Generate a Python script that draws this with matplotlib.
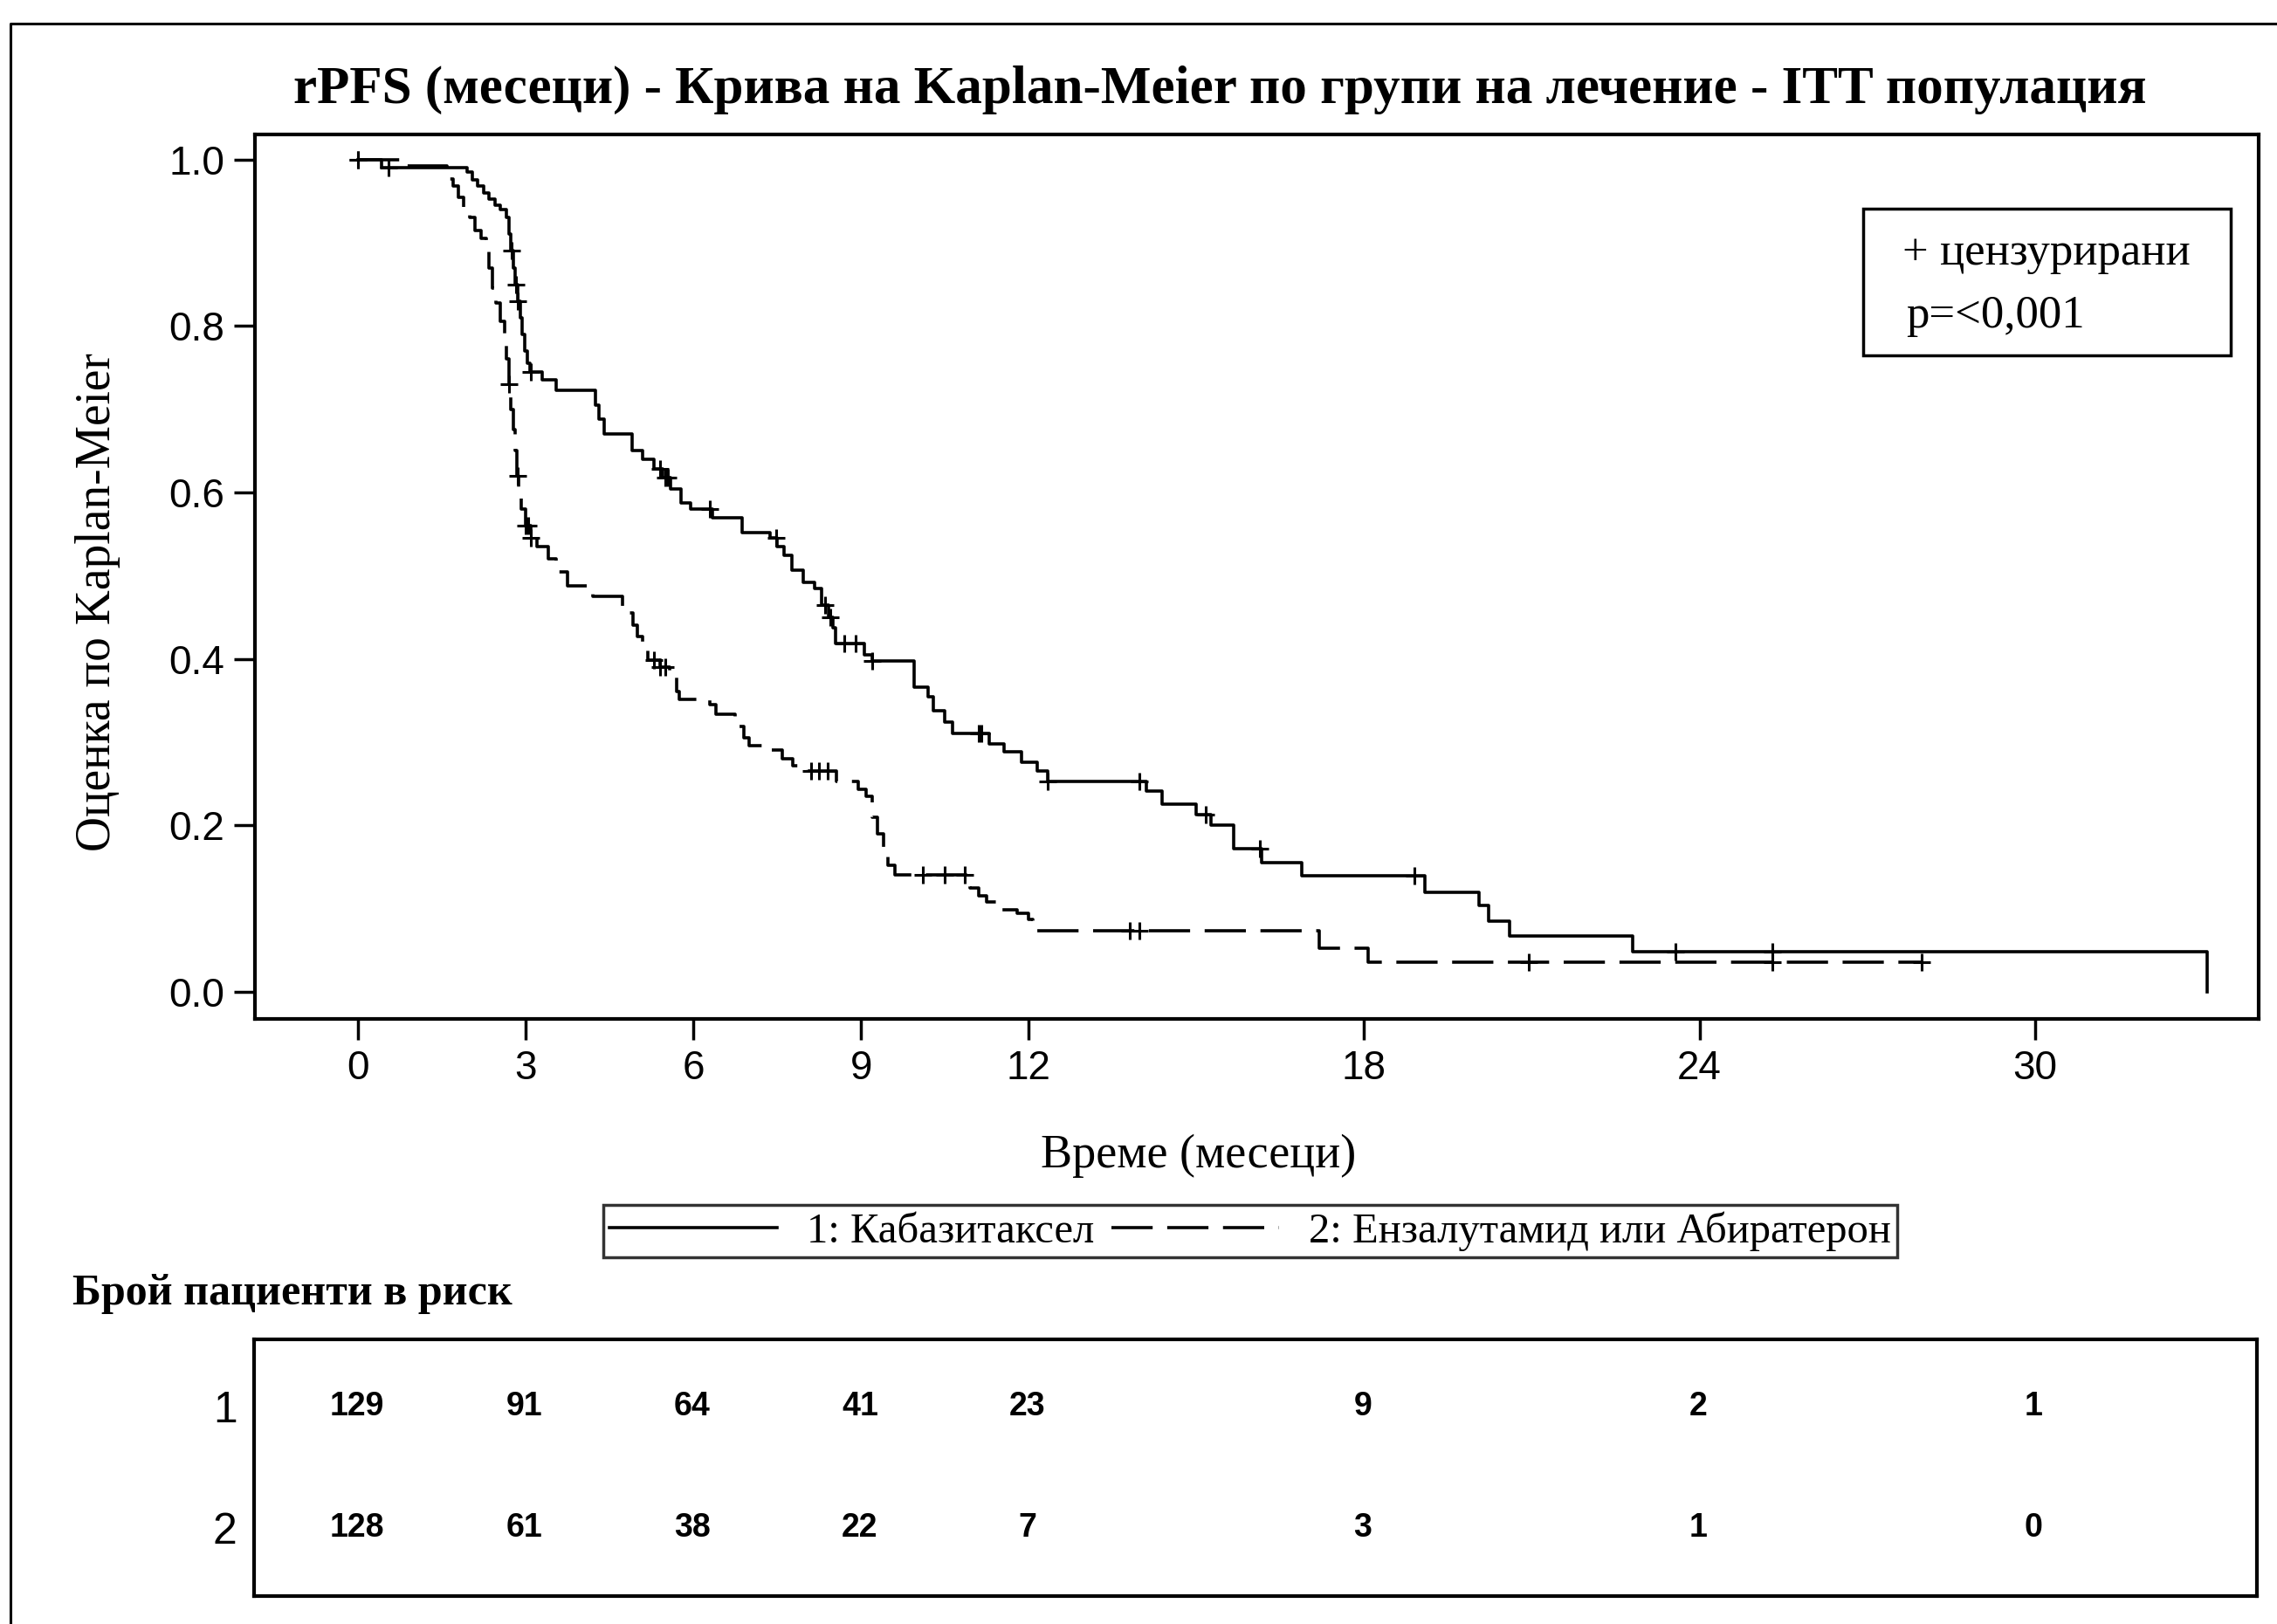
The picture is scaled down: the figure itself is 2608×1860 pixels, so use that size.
import matplotlib
matplotlib.use("Agg")
import matplotlib.pyplot as plt
from matplotlib.lines import Line2D
from matplotlib.patches import Rectangle

# --- data ------------------------------------------------------------------
# group 1: Кабазитаксел (time in months, KM estimate after the step)
g1_time = [0, 0.42, 1.95, 2.05, 2.15, 2.25, 2.35, 2.45, 2.55, 2.66, 2.70, 2.74,
           2.78, 2.82, 2.86, 2.90, 2.94, 2.98, 3.04, 3.08, 3.30, 3.55, 4.25,
           4.32, 4.40, 4.90, 5.10, 5.30, 5.45, 5.60, 5.78, 5.95, 6.35, 6.88,
           7.37, 7.50, 7.62, 7.77, 7.97, 8.17, 8.30, 8.42, 8.50, 8.55, 9.06,
           9.20, 9.95, 10.20, 10.30, 10.50, 10.63, 11.30, 11.56, 11.87, 12.15,
           12.34, 14.10, 14.38, 15.00, 15.26, 15.67, 16.16, 16.88, 19.09,
           20.05, 20.23, 20.60, 22.80, 33.08]
g1_surv = [1.0, 0.99, 0.985, 0.975, 0.968, 0.96, 0.952, 0.945, 0.94, 0.93, 0.91,
           0.89, 0.87, 0.85, 0.83, 0.81, 0.79, 0.77, 0.755, 0.745, 0.735, 0.723,
           0.705, 0.688, 0.670, 0.650, 0.640, 0.628, 0.618, 0.604, 0.587, 0.580,
           0.570, 0.552, 0.545, 0.535, 0.524, 0.507, 0.492, 0.485, 0.465, 0.450,
           0.437, 0.419, 0.405, 0.398, 0.366, 0.355, 0.338, 0.324, 0.311, 0.298,
           0.288, 0.276, 0.265, 0.253, 0.241, 0.225, 0.213, 0.200, 0.172, 0.155,
           0.140, 0.120, 0.104, 0.085, 0.067, 0.048, 0.0]
g1_cens = [0.0, 0.55, 2.75, 2.83, 2.86, 3.10, 5.40, 5.50, 5.55, 6.30, 7.48,
           8.35, 8.45, 8.70, 8.90, 9.20, 11.10, 11.15, 12.34, 13.98, 15.17,
           16.14, 18.90, 23.57, 25.30]

# group 2: Ензалутамид или Абиратерон
g2_time = [0, 0.80, 1.60, 1.70, 1.80, 1.90, 2.00, 2.10, 2.20, 2.30, 2.35, 2.40,
           2.47, 2.55, 2.63, 2.66, 2.70, 2.74, 2.78, 2.82, 2.85, 2.88, 2.92,
           3.00, 3.10, 3.20, 3.40, 3.55, 3.75, 4.20, 4.73, 4.92, 5.00, 5.10,
           5.19, 5.40, 5.58, 5.70, 5.75, 6.30, 6.40, 6.75, 6.90, 7.00, 7.39,
           7.60, 7.78, 8.05, 8.56, 8.95, 9.09, 9.20, 9.30, 9.40, 9.48, 9.60,
           10.95, 11.10, 11.25, 11.50, 11.80, 12.00, 12.08, 17.19, 18.07, 27.97]
g2_surv = [1.0, 0.992, 0.976, 0.968, 0.955, 0.94, 0.93, 0.915, 0.905, 0.89, 0.87,
           0.845, 0.828, 0.806, 0.786, 0.76, 0.73, 0.70, 0.675, 0.65, 0.62, 0.60,
           0.58, 0.56, 0.545, 0.535, 0.52, 0.505, 0.488, 0.475, 0.455, 0.441,
           0.427, 0.41, 0.399, 0.39, 0.38, 0.361, 0.351, 0.345, 0.334, 0.319,
           0.305, 0.296, 0.291, 0.28, 0.272, 0.265, 0.253, 0.243, 0.235, 0.21,
           0.19, 0.165, 0.152, 0.141, 0.125, 0.115, 0.108, 0.099, 0.094, 0.087,
           0.073, 0.052, 0.036, 0.036]
g2_cens = [0.0, 2.70, 2.86, 3.00, 3.05, 3.10, 5.30, 5.40, 5.50, 8.10, 8.25,
           8.40, 10.10, 10.50, 10.85, 13.80, 13.98, 20.94, 25.30, 27.97]

risk_times = [0, 3, 6, 9, 12, 18, 24, 30]
risk_g1 = [129, 91, 64, 41, 23, 9, 2, 1]
risk_g2 = [128, 61, 38, 22, 7, 3, 1, 0]

x_ticks = [0, 3, 6, 9, 12, 18, 24, 30]
y_ticks = [0.0, 0.2, 0.4, 0.6, 0.8, 1.0]

title = "rPFS (месеци) - Крива на Kaplan-Meier по групи на лечение - ITT популация"
group_labels = ["1: Кабазитаксел", "2: Ензалутамид или Абиратерон"]

# --- figure ------------------------------------------------------------------
W, H = 2608, 1860
SERIF = "Liberation Serif"
SANS = "Liberation Sans"
plt.rcParams["font.family"] = SANS
plt.rcParams["lines.scale_dashes"] = False


def fx(x):
    return x / W


def fy(y):
    return 1 - y / H


def km_at(times, surv, t):
    s = surv[0]
    for ti, si in zip(times, surv):
        if ti <= t:
            s = si
    return s


fig = plt.figure(figsize=(W / 100, H / 100), dpi=100)

ax = fig.add_axes([fx(292), fy(1167), fx(2587) - fx(292), fy(154) - fy(1167)])
ax.step(g1_time, g1_surv, where="post", color="black", lw=2.6,
        label=group_labels[0])
ax.step(g2_time, g2_surv, where="post", color="black", lw=2.6,
        dashes=(34, 12), label=group_labels[1])
ax.plot(g1_cens, [km_at(g1_time, g1_surv, t) for t in g1_cens], ls="none",
        marker="+", ms=15, mew=2.2, color="black")
ax.plot(g2_cens, [km_at(g2_time, g2_surv, t) for t in g2_cens], ls="none",
        marker="+", ms=15, mew=2.2, color="black")

ax.set_xlim(-1.84, 34.0)
ax.set_ylim(-0.0325, 1.030)
ax.set_xticks(x_ticks)
ax.set_yticks(y_ticks)
ax.set_yticklabels([f"{v:.1f}" for v in y_ticks])
ax.tick_params(direction="out", length=17, width=2.5, labelsize=33, pad=8)
for sp in ax.spines.values():
    sp.set_linewidth(3)

ax.set_xlabel("Време (месеци)", family=SERIF, fontsize=39)
ax.set_ylabel("Оценка по Kaplan-Meier", family=SERIF, fontsize=40)
ax.xaxis.set_label_coords((1373 - 292) / 2295, (1167 - 1298) / 1013)
ax.yaxis.set_label_coords((138 - 292) / 2295, (1167 - 690) / 1013)

fig.text(fx(1397), fy(103), title, family=SERIF, weight="bold", fontsize=44,
         ha="center", va="center")

# censored / p-value box in the upper right
fig.patches.append(Rectangle((fx(2134), fy(407)), fx(2555) - fx(2134),
                             fy(239) - fy(407), transform=fig.transFigure,
                             fill=False, lw=2.5, edgecolor="black"))
fig.text(fx(2179), fy(290), "+ цензурирани", family=SERIF, fontsize=38,
         ha="left", va="center")
fig.text(fx(2183), fy(362), "p=<0,001", family=SERIF, fontsize=38,
         ha="left", va="center")

# group legend under the x label
handles = [Line2D([], [], color="black", lw=2.6),
           Line2D([], [], color="black", lw=2.6, dashes=(34, 12))]
leg = fig.legend(handles, group_labels, loc="center",
                 bbox_to_anchor=(fx(1432), fy(1410)), ncol=2, frameon=True,
                 fancybox=False, edgecolor="black",
                 prop={"family": SERIF, "size": 35}, handlelength=3.95,
                 handletextpad=0.7, columnspacing=0.4, borderpad=0.15,
                 borderaxespad=0)
leg.get_frame().set_linewidth(2.5)

fig.text(fx(83), fy(1482), "Брой пациенти в риск", family=SERIF,
         weight="bold", fontsize=36, ha="left", va="center")

# number at risk table
rax = fig.add_axes([fx(291), fy(1828), fx(2585) - fx(291), fy(1534) - fy(1828)])
rax.set_xlim(ax.get_xlim())
rax.set_ylim(0, 1)
row_y = [0.738, 0.265]
for t, n in zip(risk_times, risk_g1):
    rax.text(t, row_y[0], str(n), ha="center", va="center", fontsize=27,
             weight="bold")
for t, n in zip(risk_times, risk_g2):
    rax.text(t, row_y[1], str(n), ha="center", va="center", fontsize=27,
             weight="bold")
rax.set_xticks([])
rax.set_yticks(row_y)
rax.set_yticklabels(["1", "2"])
rax.tick_params(axis="y", length=0, labelsize=36, pad=14)
for sp in rax.spines.values():
    sp.set_linewidth(3)

# outer frame of the picture
fig.lines.append(Line2D([fx(12), fx(12), 1.0], [0.0, fy(27), fy(27)],
                        transform=fig.transFigure, color="black", lw=2.2))

fig.savefig("out.png", dpi=100)
